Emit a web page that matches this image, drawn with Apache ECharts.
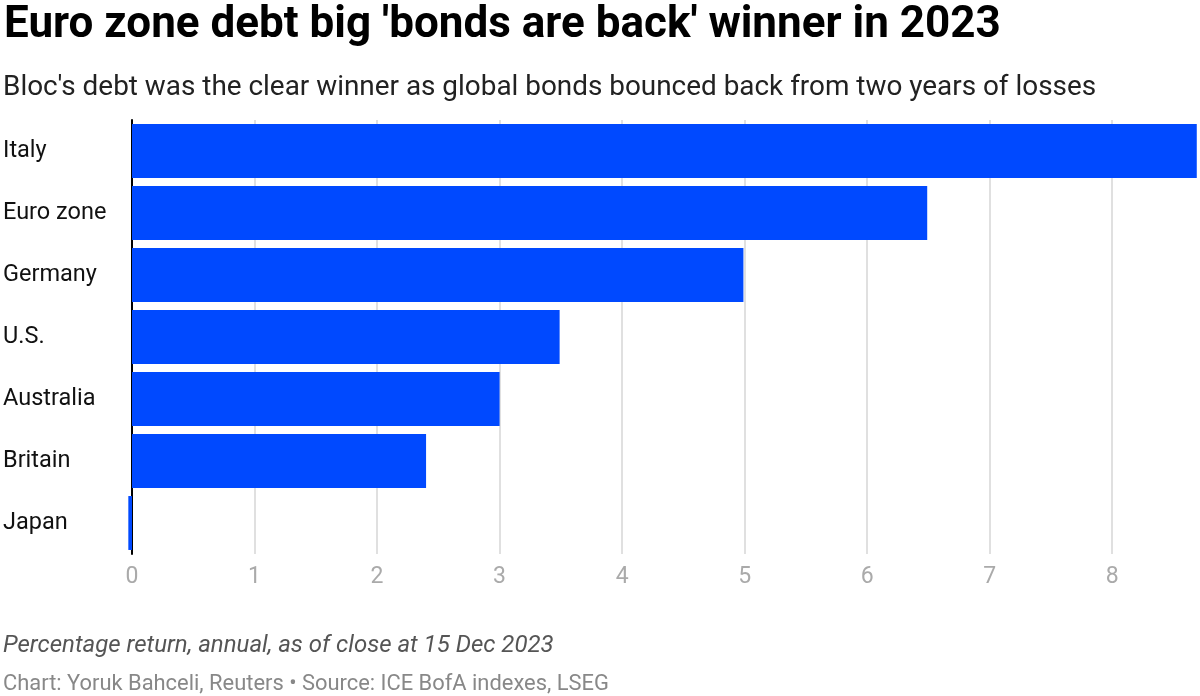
<!DOCTYPE html>
<html>
<head>
<meta charset="utf-8">
<script src="https://cdn.jsdelivr.net/npm/echarts@6/dist/echarts.min.js"></script>
<style>html,body{margin:0;padding:0;background:#fff}#c{width:1200px;height:696px}</style>
</head>
<body>
<div id="c"></div>
<script>
const categories = ['Italy', 'Euro zone', 'Germany', 'U.S.', 'Australia', 'Britain', 'Japan'];
const values = [8.69, 6.49, 4.99, 3.49, 3.0, 2.4, -0.03];
const tickLabels = ['0', '1', '2', '3', '4', '5', '6', '7', '8'];

const chart = echarts.init(document.getElementById('c'), null, {renderer: 'canvas'});
chart.setOption({
  animation: false,
  textStyle: {fontFamily: 'Roboto'},
  title: [
    {text: "Euro zone debt big 'bonds are back' winner in 2023", left: -1, top: -1,
     textStyle: {fontFamily: 'Roboto', fontWeight: 'bold', fontSize: 44, color: '#000'}},
    {text: "Bloc's debt was the clear winner as global bonds bounced back from two years of losses", left: -2, top: 69,
     textStyle: {fontFamily: 'Roboto', fontWeight: 'normal', fontSize: 27.9, color: '#222'}},
    {text: 'Percentage return, annual, as of close at 15 Dec 2023', left: -2, top: 629,
     textStyle: {fontFamily: 'Roboto', fontWeight: 'normal', fontStyle: 'italic', fontSize: 24, color: '#555'}},
    {text: 'Chart: Yoruk Bahceli, Reuters • Source: ICE BofA indexes, LSEG', left: -2, top: 669,
     textStyle: {fontFamily: 'Roboto', fontWeight: 'normal', fontSize: 21.9, color: '#888'}}
  ],
  grid: {left: 132, right: 2, top: 120, bottom: 142, containLabel: false},
  xAxis: {
    type: 'value', min: 0, max: 8.7, interval: 1,
    axisLine: {show: false}, axisTick: {show: false},
    splitLine: {show: true, showMaxLine: false, lineStyle: {color: '#e0e0e0', width: 2}},
    axisLabel: {color: '#aaa', fontSize: 23, margin: 12, fontFamily: 'Roboto', showMaxLabel: false,
      formatter: function (v) { const i = tickLabels.indexOf(String(v)); return i >= 0 ? tickLabels[i] : ''; }}
  },
  yAxis: {
    type: 'category', data: categories, inverse: true,
    axisLine: {show: true, onZero: false, lineStyle: {color: '#000', width: 2}},
    axisTick: {show: false},
    axisLabel: {color: '#111', fontSize: 23.5, align: 'left', margin: 129, fontFamily: 'Roboto'}
  },
  series: [{
    type: 'bar', data: values, barCategoryGap: '13%', clip: false,
    itemStyle: {color: '#0049ff'}, z: 1
  }]
});
</script>
</body>
</html>
